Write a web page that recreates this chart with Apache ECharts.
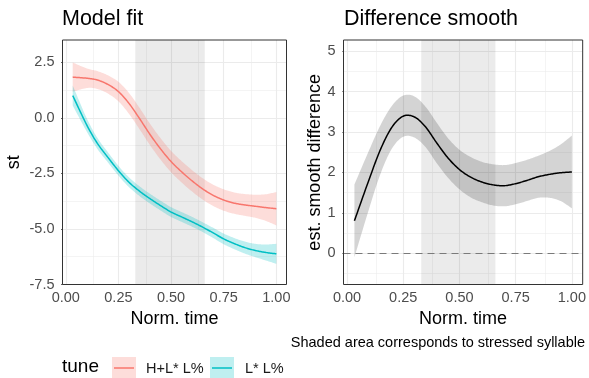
<!DOCTYPE html>
<html><head><meta charset="utf-8">
<script src="https://cdn.jsdelivr.net/npm/echarts@6/dist/echarts.min.js"></script>
<style>html,body{margin:0;padding:0;background:#fff}#c{width:589px;height:378px}</style>
</head><body><div id="c"></div>
<script>
// ---- data ----
const xs      = [0.033, 0.1, 0.15, 0.2, 0.25, 0.3, 0.35, 0.4, 0.45, 0.5, 0.55, 0.6, 0.65, 0.7, 0.75, 0.8, 0.85, 0.9, 0.95, 1.0];
const fitHL   = [1.83, 1.78, 1.70, 1.50, 1.18, 0.65, -0.03, -0.75, -1.40, -1.97, -2.43, -2.84, -3.20, -3.49, -3.70, -3.84, -3.92, -3.98, -4.04, -4.09];
const ciHL    = [0.66, 0.44, 0.40, 0.41, 0.44, 0.47, 0.48, 0.48, 0.48, 0.48, 0.48, 0.48, 0.48, 0.48, 0.48, 0.48, 0.49, 0.52, 0.60, 0.75];
const fitL    = [1.00, -0.33, -1.15, -1.78, -2.38, -2.90, -3.30, -3.64, -3.95, -4.24, -4.46, -4.68, -4.92, -5.18, -5.45, -5.66, -5.84, -5.97, -6.06, -6.12];
const ciL     = [0.45, 0.30, 0.25, 0.23, 0.22, 0.22, 0.22, 0.22, 0.22, 0.22, 0.22, 0.22, 0.22, 0.23, 0.24, 0.25, 0.27, 0.30, 0.36, 0.45];
const diffFit = [0.80, 1.85, 2.58, 3.12, 3.39, 3.37, 3.12, 2.72, 2.35, 2.07, 1.88, 1.76, 1.69, 1.67, 1.72, 1.80, 1.89, 1.95, 1.99, 2.01];
const diffCi  = [0.90, 0.72, 0.60, 0.53, 0.51, 0.51, 0.50, 0.50, 0.49, 0.49, 0.50, 0.50, 0.51, 0.51, 0.51, 0.51, 0.52, 0.58, 0.70, 0.90];
const tuneNames  = ['H+L* L%', 'L* L%'];
const tuneColors = ['#F8766D', '#00BFC4'];
const xTicks     = [0, 0.25, 0.5, 0.75, 1];
const xMinor     = [0.125, 0.375, 0.625, 0.875];
const yTicksFit  = [-7.5, -5, -2.5, 0, 2.5];
const yMinorFit  = [-6.25, -3.75, -1.25, 1.25];
const yTicksDiff = [0, 1, 2, 3, 4, 5];
const yMinorDiff = [-0.5, 0.5, 1.5, 2.5, 3.5, 4.5];
const shade      = [0.33, 0.66];

const FF = '"Liberation Sans", Arial, Helvetica, sans-serif';
const chart = echarts.init(document.getElementById('c'), null, {renderer: 'canvas'});

function hexA(hex, a) {
  const n = parseInt(hex.slice(1), 16);
  return 'rgba(' + (n >> 16) + ',' + ((n >> 8) & 255) + ',' + (n & 255) + ',' + a + ')';
}
// Catmull-Rom sampling in pixel space (smooth curves through the data points)
function spline(p) {
  const out = [], n = p.length, S = 12;
  for (let i = 0; i < n - 1; i++) {
    const p0 = p[Math.max(i - 1, 0)], p1 = p[i], p2 = p[i + 1], p3 = p[Math.min(i + 2, n - 1)];
    for (let s = 0; s < S; s++) {
      const t = s / S, t2 = t * t, t3 = t2 * t;
      const f = k => 0.5 * ((2 * p1[k]) + (-p0[k] + p2[k]) * t + (2 * p0[k] - 5 * p1[k] + 4 * p2[k] - p3[k]) * t2 + (-p0[k] + 3 * p1[k] - 3 * p2[k] + p3[k]) * t3);
      out.push([f(0), f(1)]);
    }
  }
  out.push(p[n - 1]);
  return out;
}

function gridSeries(gi, yMaj, yMin) {
  const maj = {color: '#ebebeb', width: 1.1, type: 'solid'};
  const mnr = {color: '#ebebeb', width: 0.55, type: 'solid'};
  const d = [];
  xMinor.forEach(v => d.push({xAxis: v, lineStyle: mnr}));
  yMin.forEach(v => d.push({yAxis: v, lineStyle: mnr}));
  xTicks.forEach(v => d.push({xAxis: v, lineStyle: maj}));
  yMaj.forEach(v => d.push({yAxis: v, lineStyle: maj}));
  return {type: 'line', xAxisIndex: gi, yAxisIndex: gi, data: [], silent: true, z: 0.5,
    markLine: {z: 0.5, silent: true, animation: false, symbol: ['none', 'none'], label: {show: false},
      emphasis: {disabled: true}, data: d}};
}
function shadeSeries(gi) {
  return {type: 'line', xAxisIndex: gi, yAxisIndex: gi, data: [], silent: true, z: 1,
    markArea: {z: 1, silent: true, animation: false, itemStyle: {color: 'rgba(0,0,0,0.08)'},
      emphasis: {disabled: true}, data: [[{xAxis: shade[0]}, {xAxis: shade[1]}]]}};
}
function bandSeries(gi, fit, ci, fill) {
  return {type: 'custom', xAxisIndex: gi, yAxisIndex: gi, silent: true, z: 3,
    data: xs.map((x, i) => [x, fit[i] - ci[i], fit[i] + ci[i]]),
    encode: {x: 0, y: [1, 2]},
    renderItem: (params, api) => {
      if (params.dataIndex !== 0) return null;
      const up = xs.map((x, i) => api.coord([x, fit[i] + ci[i]]));
      const lo = xs.map((x, i) => api.coord([x, fit[i] - ci[i]]));
      const pts = spline(up).concat(spline(lo).reverse());
      return {type: 'polygon', shape: {points: pts}, style: {fill: fill}};
    }};
}
function lineSeries(gi, fit, color, name) {
  return {type: 'custom', name: name, xAxisIndex: gi, yAxisIndex: gi, silent: true, z: 4,
    data: xs.map((x, i) => [x, fit[i]]),
    encode: {x: 0, y: 1},
    renderItem: (params, api) => {
      if (params.dataIndex !== 0) return null;
      const pts = spline(xs.map((x, i) => api.coord([x, fit[i]])));
      return {type: 'polyline', shape: {points: pts}, style: {stroke: color, lineWidth: 1.5, fill: null, lineJoin: 'round'}};
    }};
}
function xAxisCfg(gi) {
  return {type: 'value', gridIndex: gi, min: -0.0155, max: 1.048,
    splitLine: {show: false}, axisLine: {show: false},
    axisTick: {show: true, customValues: xTicks, length: 4.5, lineStyle: {color: '#333', width: 1}},
    axisLabel: {customValues: xTicks, formatter: v => v.toFixed(2), fontSize: 14.5, color: '#4d4d4d', margin: 6, fontFamily: FF},
    name: 'Norm. time', nameLocation: 'middle', nameGap: 23,
    nameTextStyle: {fontSize: 18, color: '#000', fontFamily: FF}};
}
function yAxisCfg(gi, min, max, ticks, fmt, name, gap) {
  return {type: 'value', gridIndex: gi, min: min, max: max,
    splitLine: {show: false}, axisLine: {show: false},
    axisTick: {show: true, customValues: ticks, length: 4.5, lineStyle: {color: '#333', width: 1}},
    axisLabel: {customValues: ticks, formatter: fmt, fontSize: 14.5, color: '#4d4d4d', margin: 8, fontFamily: FF},
    name: name, nameLocation: 'middle', nameGap: gap, nameRotate: 90,
    nameTextStyle: {fontSize: 18, color: '#000', fontFamily: FF}};
}

const series = [
  gridSeries(0, yTicksFit, yMinorFit), shadeSeries(0),
  bandSeries(0, fitHL, ciHL, hexA(tuneColors[0], 0.25)),
  bandSeries(0, fitL, ciL, hexA(tuneColors[1], 0.25)),
  lineSeries(0, fitHL, tuneColors[0], tuneNames[0]),
  lineSeries(0, fitL, tuneColors[1], tuneNames[1]),
  gridSeries(1, yTicksDiff, yMinorDiff), shadeSeries(1),
  bandSeries(1, diffFit, diffCi, 'rgba(0,0,0,0.17)'),
  {type: 'line', xAxisIndex: 1, yAxisIndex: 1, data: [], silent: true, z: 3,
   markLine: {z: 3, silent: true, animation: false, symbol: ['none', 'none'], label: {show: false},
     data: [{yAxis: 0, lineStyle: {color: '#7a7a7a', width: 1, type: [7, 5]}}]}},
  lineSeries(1, diffFit, '#000', 'diff')
];

const keyX = [112, 210], labX = [146, 245];
const legendEls = [{type: 'text', left: 62, top: 357, style: {text: 'tune', fontSize: 19, fontFamily: FF, fill: '#000'}}];
tuneNames.forEach((n, i) => {
  legendEls.push({type: 'rect', shape: {x: keyX[i], y: 357, width: 24, height: 22}, style: {fill: hexA(tuneColors[i], 0.25)}});
  legendEls.push({type: 'line', shape: {x1: keyX[i] + 2, y1: 368, x2: keyX[i] + 22, y2: 368}, style: {stroke: tuneColors[i], lineWidth: 1.5}});
  legendEls.push({type: 'text', left: labX[i], top: 361, style: {text: n, fontSize: 14.5, fontFamily: FF, fill: '#1a1a1a'}});
});
legendEls.push({type: 'text', right: 4, top: 335, style: {text: 'Shaded area corresponds to stressed syllable', fontSize: 14.5, fontFamily: FF, fill: '#000'}});

chart.setOption({
  animation: false,
  backgroundColor: '#fff',
  title: [
    {text: 'Model fit', left: 62, top: 8, padding: 0, textStyle: {fontSize: 21.5, fontWeight: 'normal', color: '#000', fontFamily: FF}},
    {text: 'Difference smooth', left: 344, top: 8, padding: 0, textStyle: {fontSize: 21.5, fontWeight: 'normal', color: '#000', fontFamily: FF}}
  ],
  grid: [
    {left: 62.5, top: 40, width: 224, height: 244.5, show: true, borderColor: '#333', borderWidth: 1, backgroundColor: 'transparent', z: 10},
    {left: 343.5, top: 40, width: 241, height: 244.5, show: true, borderColor: '#333', borderWidth: 1, backgroundColor: 'transparent', z: 10}
  ],
  xAxis: [xAxisCfg(0), xAxisCfg(1)],
  yAxis: [
    yAxisCfg(0, -7.5, 3.5, yTicksFit, v => v.toFixed(1), 'st', 39),
    yAxisCfg(1, -0.775, 5.275, yTicksDiff, v => String(v), 'est. smooth difference', 17)
  ],
  graphic: legendEls,
  series: series
});
</script></body></html>
